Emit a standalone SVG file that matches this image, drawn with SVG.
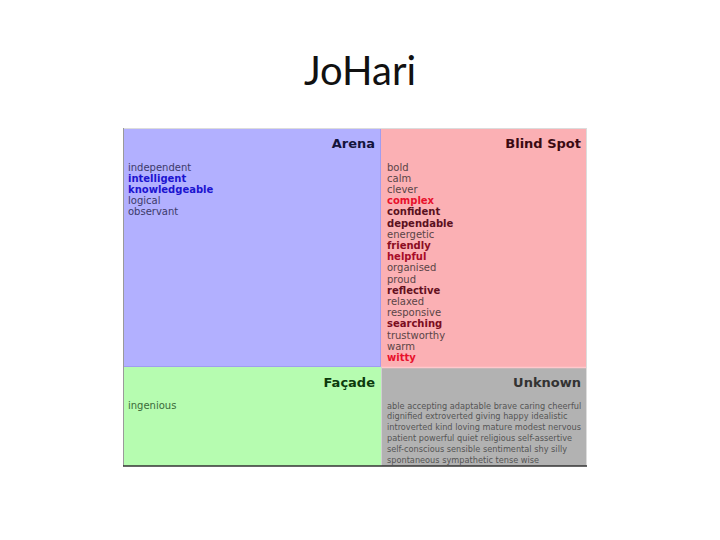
<svg xmlns="http://www.w3.org/2000/svg" width="720" height="540" viewBox="0 0 720 540">
<style>
.title{font-family:Lato,"Open Sans","Liberation Sans",sans-serif;font-size:40px;fill:#111;text-anchor:middle}
.h{font-family:"DejaVu Sans",Verdana,sans-serif;font-size:13px;font-weight:bold;text-anchor:end}
.t{font-family:"DejaVu Sans",Verdana,sans-serif;font-size:10px}
.b{font-weight:bold}
.u{font-family:"DejaVu Sans",Verdana,sans-serif;font-size:8.2px;fill:#555}
</style>
<rect width="720" height="540" fill="#fff"/>
<text class="title" x="360" y="85">JoHari</text>
<g id="arena">
<rect x="123" y="128" width="258" height="239" fill="#b2b0ff"/>
<text class="h" x="375" y="148" fill="#14143c">Arena</text>
<text class="t" x="128" y="170.5" fill="#3c3a6a">independent</text>
<text class="t b" x="128" y="181.7" fill="#1c14d0">intelligent</text>
<text class="t b" x="128" y="192.9" fill="#1c14d0">knowledgeable</text>
<text class="t" x="128" y="204.1" fill="#3c3a6a">logical</text>
<text class="t" x="128" y="215.3" fill="#3c3a6a">observant</text>
</g>
<g id="blindspot">
<rect x="381" y="128" width="206" height="239" fill="#fbb0b4"/>
<text class="h" x="581" y="148" fill="#3a0a12">Blind Spot</text>
<text class="t" x="387" y="170.5" fill="#5a4446">bold</text>
<text class="t" x="387" y="181.7" fill="#5a4446">calm</text>
<text class="t" x="387" y="192.9" fill="#5a4446">clever</text>
<text class="t b" x="387" y="204.1" fill="#e8102c">complex</text>
<text class="t b" x="387" y="215.3" fill="#5a1020">confident</text>
<text class="t b" x="387" y="226.5" fill="#5a1020">dependable</text>
<text class="t" x="387" y="237.7" fill="#5a4446">energetic</text>
<text class="t b" x="387" y="248.9" fill="#8a0c22">friendly</text>
<text class="t b" x="387" y="260.1" fill="#a80c28">helpful</text>
<text class="t" x="387" y="271.3" fill="#5a4446">organised</text>
<text class="t" x="387" y="282.5" fill="#5a4446">proud</text>
<text class="t b" x="387" y="293.7" fill="#64101e">reflective</text>
<text class="t" x="387" y="304.9" fill="#5a4446">relaxed</text>
<text class="t" x="387" y="316.1" fill="#5a4446">responsive</text>
<text class="t b" x="387" y="327.3" fill="#7a0c20">searching</text>
<text class="t" x="387" y="338.5" fill="#5a4446">trustworthy</text>
<text class="t" x="387" y="349.7" fill="#5a4446">warm</text>
<text class="t b" x="387" y="360.9" fill="#e8102c">witty</text>
</g>
<g id="facade">
<rect x="123" y="367" width="258" height="99" fill="#b6fcb0"/>
<text class="h" x="375" y="387" fill="#0c3a0c">Façade</text>
<text class="t" x="128" y="409" fill="#3a6a3a">ingenious</text>
</g>
<g id="unknown">
<rect x="381" y="367" width="206" height="99" fill="#b2b2b2"/>
<text class="h" x="581" y="387" fill="#333">Unknown</text>
<text class="u" x="387" y="408.5">able accepting adaptable brave caring cheerful</text>
<text class="u" x="387" y="419.3">dignified extroverted giving happy idealistic</text>
<text class="u" x="387" y="430.1">introverted kind loving mature modest nervous</text>
<text class="u" x="387" y="440.9">patient powerful quiet religious self-assertive</text>
<text class="u" x="387" y="451.7">self-conscious sensible sentimental shy silly</text>
<text class="u" x="387" y="462.5">spontaneous sympathetic tense wise</text>
</g>
<g id="connectors" fill="none">
<line x1="380.5" y1="128" x2="380.5" y2="367" stroke="#a09cf0" stroke-width="1"/>
<line x1="123" y1="366.5" x2="381" y2="366.5" stroke="#a09cf0" stroke-width="1"/>
<line x1="381" y1="367.5" x2="587" y2="367.5" stroke="#ffc8cc" stroke-width="1.5"/>
<line x1="381.5" y1="367" x2="381.5" y2="466" stroke="#d0d0d0" stroke-width="1"/>
<line x1="123" y1="128.5" x2="587" y2="128.5" stroke="#dcdcdc" stroke-width="1"/>
<line x1="123.5" y1="128" x2="123.5" y2="466" stroke="#9a9a9a" stroke-width="1"/>
<line x1="586.5" y1="128" x2="586.5" y2="466" stroke="#dcdcdc" stroke-width="1"/>
<line x1="123" y1="466" x2="587" y2="466" stroke="#333" stroke-width="1.5"/>
</g>
</svg>
